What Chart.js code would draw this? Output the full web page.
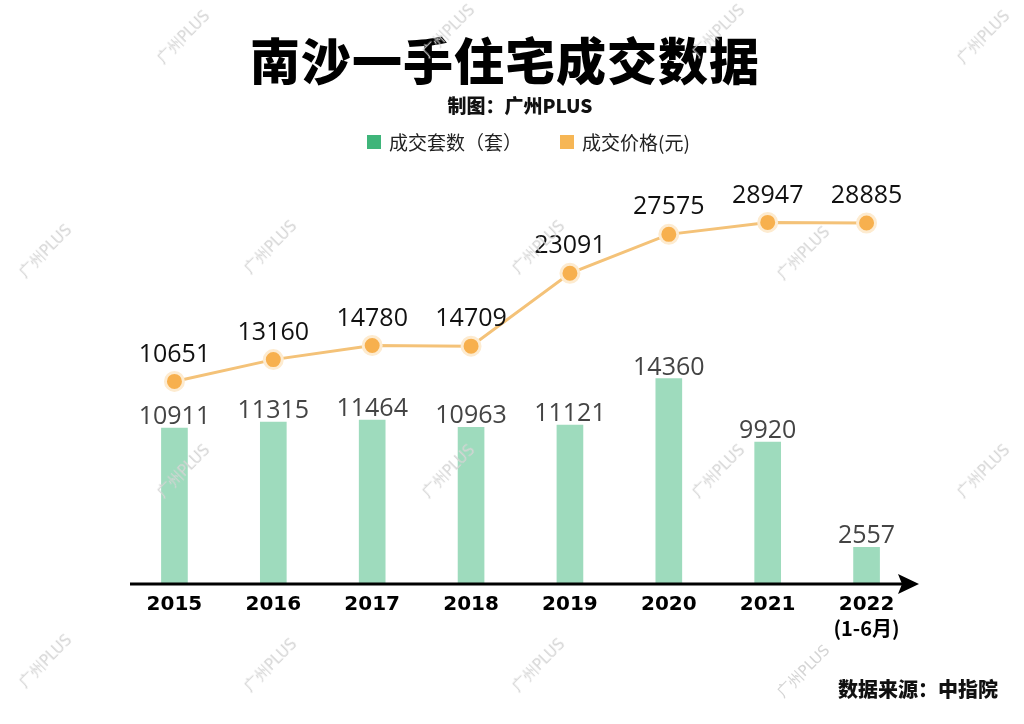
<!doctype html>
<html lang="zh">
<head>
<meta charset="utf-8">
<title>南沙一手住宅成交数据</title>
<script src="https://cdn.jsdelivr.net/npm/chart.js"></script>
<style>
  body { margin: 0; background: #fff; }
  .page { position: relative; width: 1024px; height: 724px; overflow: hidden; font-family: "Noto Sans CJK SC", "Noto Sans", sans-serif; }
  #chart { position: absolute; left: 0; top: 0; }
  .title { position: absolute; left: 0; width: 1010px; top: 22px; text-align: center; font-size: 50px; font-weight: 900; color: #000; letter-spacing: 1px; }
  .sub { position: absolute; left: 0; width: 1040px; top: 91px; text-align: center; font-size: 19px; font-weight: 900; color: #111; }
  .legend { position: absolute; top: 128px; left: 367px; font-size: 19px; color: #222; display: flex; align-items: center; }
  .legend i { display: inline-block; width: 14px; height: 14px; margin-right: 8px; }
  .legend span { display: flex; align-items: center; margin-right: 38px; }
  .source { position: absolute; right: 26px; top: 674px; font-size: 20px; font-weight: 900; color: #111; }
  .wm { position: absolute; font-family: "DejaVu Sans", sans-serif; font-size: 15px; color: #d4d4d4; transform: rotate(-45deg); white-space: nowrap; }
</style>
</head>
<body>
<div class="page" id="page">
  <canvas id="chart" width="1024" height="724"></canvas>
  <div class="title">南沙一手住宅成交数据</div>
  <div class="sub">制图：广州PLUS</div>
  <div class="legend">
    <span><i style="background:#3fb57a"></i>成交套数（套）</span>
    <span><i style="background:#f6b655"></i>成交价格(元)</span>
  </div>
  <div class="source">数据来源：中指院</div>
</div>
<script>
const categories = ['2015', '2016', '2017', '2018', '2019', '2020', '2021', ['2022', '(1-6月)']];
const units = [10911, 11315, 11464, 10963, 11121, 14360, 9920, 2557];
const prices = [10651, 13160, 14780, 14709, 23091, 27575, 28947, 28885];

// watermark spots
const marks = [[150,28],[415,22],[685,22],[950,28],[12,242],[237,238],[505,238],[770,244],
               [150,462],[415,462],[685,462],[950,462],[12,652],[237,656],[505,656],[770,662]];
const page = document.getElementById('page');
marks.forEach(m => {
  const s = document.createElement('div');
  s.className = 'wm';
  s.textContent = '广州PLUS';
  s.style.left = m[0] + 'px';
  s.style.top = m[1] + 'px';
  page.appendChild(s);
});

const labelsPlugin = {
  id: 'labels',
  afterDatasetsDraw(chart) {
    const ctx = chart.ctx;
    const area = chart.chartArea;
    // axis with arrow
    ctx.save();
    ctx.strokeStyle = '#000';
    ctx.fillStyle = '#000';
    ctx.lineWidth = 3;
    ctx.beginPath();
    ctx.moveTo(130, area.bottom);
    ctx.lineTo(905, area.bottom);
    ctx.stroke();
    ctx.beginPath();
    ctx.moveTo(919, area.bottom);
    ctx.lineTo(898, area.bottom - 10);
    ctx.lineTo(902, area.bottom);
    ctx.lineTo(898, area.bottom + 10);
    ctx.closePath();
    ctx.fill();

    // x labels
    const xs = chart.scales.x;
    ctx.textAlign = 'center';
    ctx.textBaseline = 'middle';
    categories.forEach((c, i) => {
      const x = xs.getPixelForValue(i);
      const lines = Array.isArray(c) ? c : [c];
      lines.forEach((t, j) => {
        ctx.font = j === 0 ? 'bold 20px "DejaVu Sans", sans-serif' : 'bold 20px "Noto Sans CJK SC", sans-serif';
        ctx.fillText(t, x, area.bottom + 21 + j * 23);
      });
    });

    // bar values
    ctx.font = '25px "Open Sans", sans-serif';
    ctx.fillStyle = '#444';
    ctx.textBaseline = 'alphabetic';
    chart.getDatasetMeta(0).data.forEach((el, i) => {
      ctx.fillText(units[i], el.x, el.y - 4);
    });
    // line values
    ctx.fillStyle = '#111';
    ctx.textBaseline = 'middle';
    chart.getDatasetMeta(1).data.forEach((el, i) => {
      ctx.fillText(prices[i], el.x, el.y - 27);
    });
    ctx.restore();
  }
};

new Chart(document.getElementById('chart'), {
  data: {
    labels: categories,
    datasets: [
      {
        type: 'bar',
        label: '成交套数（套）',
        data: units,
        yAxisID: 'y',
        backgroundColor: '#9edbbd',
        barThickness: 26,
        order: 2
      },
      {
        type: 'line',
        label: '成交价格(元)',
        data: prices,
        yAxisID: 'y2',
        borderColor: '#f4c278',
        borderWidth: 3,
        pointRadius: 9,
        pointBorderWidth: 3,
        pointBackgroundColor: '#f7b04e',
        pointBorderColor: '#fdebd0',
        tension: 0,
        order: 1
      }
    ]
  },
  options: {
    responsive: false,
    animation: false,
    layout: { padding: { left: 125, right: 108, top: 170, bottom: 140 } },
    plugins: { legend: { display: false }, tooltip: { enabled: false } },
    scales: {
      x: { display: false, offset: true },
      y: { display: false, min: 0, max: 28950 },
      y2: { display: false, min: -12660, max: 34980 }
    }
  },
  plugins: [labelsPlugin]
});
</script>
</body>
</html>
